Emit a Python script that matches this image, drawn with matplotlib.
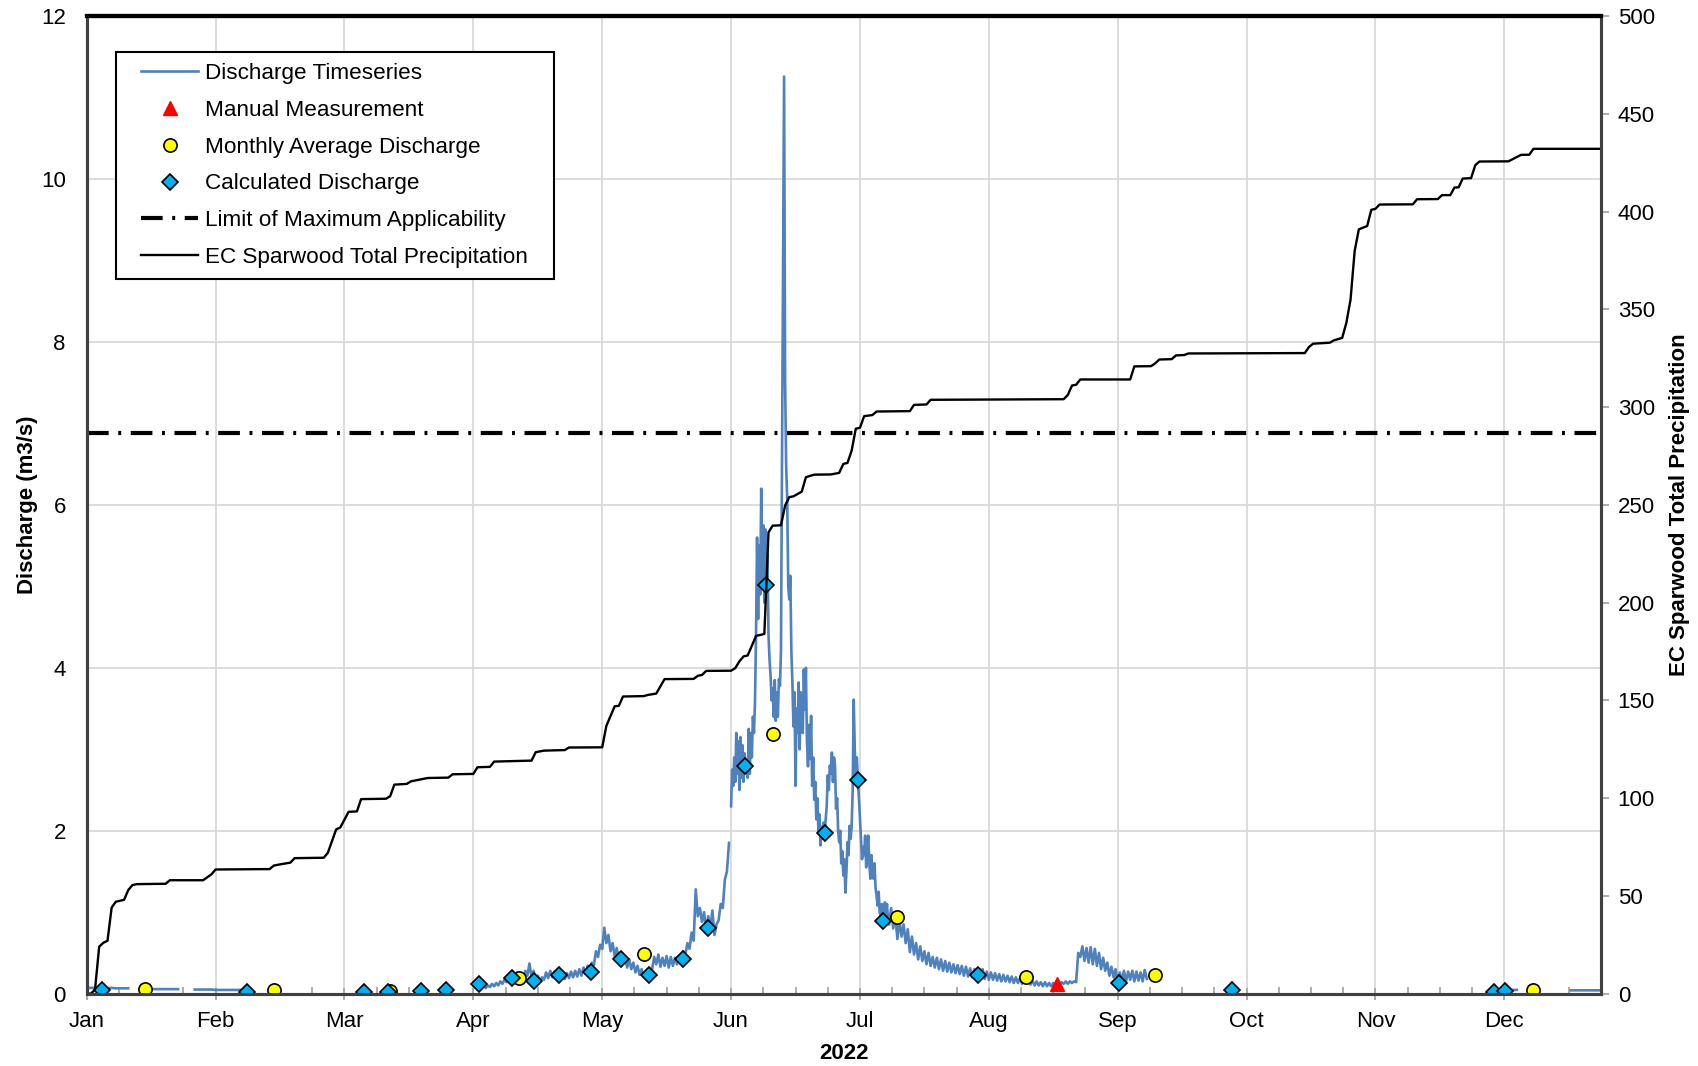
import datetime as dt
import numpy as np
import matplotlib
matplotlib.use("Agg")
import matplotlib.pyplot as plt
import matplotlib.dates as mdates
from matplotlib.lines import Line2D
from matplotlib.legend_handler import HandlerLine2D

plt.rcParams['font.family'] = ['Liberation Sans', 'DejaVu Sans']

# ---------------- data ----------------
# discharge timeseries pieces: (start, step in hours, values m3/s)
q_jan_a = [0.07, 0.07, 0.07, 0.07, 0.065, 0.065, 0.07, 0.065, 0.065, 0.065, 0.065]
q_jan_b = [0.055, 0.055, 0.055, 0.055, 0.055, 0.055, 0.055, 0.055, 0.055]
q_feb = [0.05, 0.05, 0.05, 0.05, 0.05, 0.045, 0.045, 0.045, 0.045, 0.045, 0.045, 0.045]
q_spring = [
    0.07, 0.10, 0.08, 0.12, 0.09, 0.13, 0.10, 0.15, 0.12, 0.17, 0.14, 0.20,
    0.16, 0.24, 0.18, 0.26, 0.17, 0.25, 0.18, 0.28, 0.22, 0.37, 0.20, 0.28,
    0.16, 0.22, 0.15, 0.20, 0.17, 0.26, 0.19, 0.28, 0.20, 0.27, 0.18, 0.24,
    0.17, 0.23, 0.18, 0.25, 0.19, 0.27, 0.20, 0.28, 0.21, 0.30, 0.22, 0.32,
    0.24, 0.34, 0.26, 0.38, 0.35, 0.52, 0.45, 0.60, 0.55, 0.81, 0.62, 0.72,
    0.52, 0.62, 0.46, 0.56, 0.40, 0.50, 0.36, 0.45, 0.32, 0.42, 0.30, 0.38,
    0.26, 0.34, 0.23, 0.30, 0.20, 0.26, 0.19, 0.24, 0.30, 0.45, 0.36, 0.48,
    0.33, 0.44, 0.34, 0.46, 0.32, 0.45, 0.34, 0.44, 0.36, 0.47, 0.40, 0.52,
    0.48, 0.62, 0.55, 0.75, 0.65, 1.28, 0.95, 1.05, 0.88, 1.00, 0.78, 0.95,
    0.80, 1.02, 0.72, 0.85, 0.90, 1.10, 1.05, 1.40, 1.50, 1.85,
]
q_freshet = [
    2.30, 2.75, 2.55, 2.90, 2.60, 3.20, 2.70, 3.10, 2.50, 3.15, 2.65, 3.05,
    2.60, 2.95, 2.75, 2.80, 2.65, 3.25, 2.70, 3.20, 2.90, 3.40, 3.20, 3.58,
    4.40, 5.60, 4.60, 5.50, 4.90, 6.20, 5.10, 5.75, 4.80, 5.70, 5.00, 5.40,
    4.40, 4.10, 3.90, 3.60, 3.75, 3.40, 3.85, 3.35, 3.70, 3.40, 3.86, 3.78,
    4.20, 6.50, 9.00, 11.26, 7.50, 6.48, 6.07, 5.00, 4.84, 5.13, 4.20, 3.82,
    3.28, 3.70, 2.55, 3.50, 3.20, 3.82, 3.00, 3.70, 3.41, 3.20, 3.98, 3.49,
    4.00, 3.10, 2.79, 3.30, 2.88, 3.41, 2.55, 2.90, 2.38, 2.60, 2.14, 2.40,
    2.00, 2.20, 1.82, 2.05, 1.90, 2.10, 1.97, 2.14, 2.30, 2.68, 2.50, 2.80,
    2.70, 2.96, 2.60, 2.90, 2.80, 2.27, 2.40, 2.00, 1.86, 2.00, 1.60, 1.75,
    1.45, 1.65, 1.24, 1.50, 1.86, 1.70, 2.06, 1.90, 2.06, 2.50, 3.61, 3.00,
    2.68, 2.90, 2.63, 2.40, 2.14, 1.90, 1.65, 1.80, 1.70, 1.94, 1.55, 1.80,
    1.94, 1.60, 1.41, 1.70, 1.50, 1.41, 1.60, 1.30, 1.20, 1.08, 1.25, 1.00,
    0.95, 1.10, 0.92, 1.05, 1.12, 0.95, 1.10, 0.90,
]
q_recession = [
    0.85, 1.05, 0.80, 0.98, 0.67, 0.90, 0.70, 0.85, 0.62, 0.79, 0.51, 0.70,
    0.48, 0.62, 0.42, 0.58, 0.40, 0.52, 0.36, 0.50, 0.34, 0.45, 0.32, 0.44,
    0.30, 0.42, 0.28, 0.40, 0.27, 0.38, 0.26, 0.36, 0.25, 0.35, 0.24, 0.34,
    0.22, 0.33, 0.21, 0.31, 0.20, 0.30, 0.20, 0.28, 0.19, 0.30, 0.18, 0.27,
    0.17, 0.26, 0.17, 0.25, 0.16, 0.24, 0.15, 0.23, 0.15, 0.22, 0.14, 0.21,
    0.13, 0.20, 0.13, 0.19, 0.12, 0.18, 0.12, 0.17, 0.11, 0.16, 0.10, 0.15,
    0.10, 0.14, 0.09, 0.14, 0.09, 0.13, 0.09, 0.13, 0.10, 0.13, 0.11, 0.14,
    0.12, 0.15, 0.12, 0.15, 0.13, 0.15, 0.14, 0.50, 0.45, 0.58, 0.40, 0.56,
    0.38, 0.57, 0.36, 0.55, 0.34, 0.50, 0.30, 0.44, 0.28, 0.38, 0.22, 0.33,
    0.20, 0.30, 0.13, 0.26, 0.16, 0.28, 0.15, 0.27, 0.17, 0.28, 0.15, 0.27,
    0.16, 0.26, 0.15, 0.29, 0.18,
]
q_dec_a = [0.045, 0.045, 0.045]
q_dec_b = [0.04, 0.04, 0.04, 0.04, 0.04, 0.04, 0.04, 0.04]

ts_pieces = [
    ("2022-01-01", 24, q_jan_a),
    ("2022-01-15", 24, q_jan_b),
    ("2022-01-27", 24, q_feb),
    ("2022-04-07", 12, q_spring),
    ("2022-06-05", 6, q_freshet),
    ("2022-07-13", 12, q_recession),
    ("2022-12-09", 24, q_dec_a),
    ("2022-12-24", 24, q_dec_b),
]

manual_date = ["2022-08-22 10:00"]
manual_q = [0.12]

monthly_date = ["2022-01-15", "2022-02-15", "2022-03-15", "2022-04-15", "2022-05-15",
                "2022-06-15", "2022-07-15", "2022-08-15", "2022-09-15", "2022-12-15"]
monthly_q = [0.055, 0.04, 0.03, 0.19, 0.49, 3.19, 0.94, 0.20, 0.23, 0.04]

calc_date = ["2022-01-04 14:00", "2022-02-08 16:00", "2022-03-08 16:00", "2022-03-14 10:00",
             "2022-03-22 12:00", "2022-03-28 12:00", "2022-04-05 10:00", "2022-04-13 10:00",
             "2022-04-18 12:00", "2022-04-24 14:00", "2022-05-02 10:00", "2022-05-09 10:00",
             "2022-05-16 07:00", "2022-05-24 12:00", "2022-05-30 12:00", "2022-06-08 10:00",
             "2022-06-13 12:00", "2022-06-27 12:00", "2022-07-05 12:00", "2022-07-11 12:00",
             "2022-08-03 10:00", "2022-09-06 10:00", "2022-10-03 10:00", "2022-12-05 10:00",
             "2022-12-08 05:00"]
calc_q = [0.05, 0.02, 0.02, 0.02, 0.03, 0.04, 0.12, 0.19, 0.15, 0.23, 0.27, 0.43,
          0.23, 0.43, 0.80, 2.79, 5.02, 1.97, 2.62, 0.89, 0.23, 0.13, 0.05, 0.02, 0.03]

limit_q = 6.88

# cumulative precipitation (mm), by day of year (0 = Jan 1)
precip_doy = [0, 1, 2, 3, 4, 5, 6, 7, 8, 9, 10, 11, 12, 19, 20, 28, 30, 31, 44, 45,
              47, 49, 50, 57, 58, 60, 61, 63, 65, 66, 72, 73, 74, 77, 78, 82, 87, 88,
              93, 94, 97, 98, 107, 108, 110, 115, 116, 124, 125, 126, 127, 128, 129,
              134, 135, 137, 139, 146, 147, 148, 149, 155, 156, 157, 158, 159, 160,
              161, 163, 164, 165, 167, 168, 169, 170, 172, 173, 175, 179, 181, 182,
              183, 184, 185, 186, 187, 189, 190, 198, 199, 202, 203, 222, 235, 236,
              237, 238, 239, 251, 252, 256, 257, 258, 261, 262, 264, 265, 293, 294,
              295, 299, 300, 302, 303, 304, 305, 306, 308, 309, 310, 311, 319, 320,
              325, 326, 328, 329, 330, 331, 333, 334, 335, 342, 343, 344, 345, 347,
              348, 364]
precip_mm = [0, 0, 2, 24, 26, 27, 44, 47, 47.5, 48, 53, 55.5, 56, 56.2, 58, 58, 61,
             63.5, 63.7, 65.5, 66.3, 67, 69.3, 69.5, 72, 84, 85, 93, 93.2, 99.5, 99.7,
             101, 106.9, 107.3, 108.6, 110.3, 110.5, 112.2, 112.4, 115.8, 116, 118.7,
             119.2, 123.5, 124.3, 124.6, 125.9, 126, 137, 142, 147, 147.2, 152, 152.2,
             152.8, 153.5, 160.9, 161, 162.6, 163, 165.1, 165.2, 166.5, 170, 172.5,
             173, 178, 183, 184, 236, 239.4, 239.6, 249.7, 254, 254.4, 256.8, 264.2,
             265.5, 265.6, 266.4, 271, 271.5, 277.8, 289, 289.5, 295.4, 296, 297.8,
             298, 301.2, 301.4, 303.8, 304, 304.1, 306.3, 311.1, 311.5, 314.2, 314.2,
             320.9, 321, 322.4, 324.4, 324.6, 326.5, 326.7, 327.5, 327.7, 330.8,
             332.5, 333, 334.2, 335.5, 343.2, 355, 380, 391, 392.7, 401, 401.5, 403.7,
             403.8, 406.4, 406.5, 408.5, 408.5, 412.4, 412.5, 417, 417.2, 423.8,
             425.7, 425.8, 426.9, 428, 429.1, 429.2, 432.2, 432.2]

# ---------------- build ----------------
jan1 = dt.datetime(2022, 1, 1)

ts_x, ts_y = [], []
for start, step, vals in ts_pieces:
    t0 = dt.datetime.fromisoformat(start)
    for i, v in enumerate(vals):
        ts_x.append(t0 + dt.timedelta(hours=step * i))
        ts_y.append(v)
    ts_x.append(ts_x[-1] + dt.timedelta(hours=step / 2))
    ts_y.append(np.nan)

to_dt = lambda lst: [dt.datetime.fromisoformat(s) for s in lst]
precip_x = [jan1 + dt.timedelta(days=d) for d in precip_doy]


class PaddedHandler(HandlerLine2D):
    # leaves some empty room left of each legend sample, like the Excel legend
    def __init__(self, pad, **kw):
        super().__init__(**kw)
        self.pad = pad

    def create_artists(self, legend, orig_handle, xdescent, ydescent, width, height,
                       fontsize, trans):
        p = self.pad * fontsize
        return super().create_artists(legend, orig_handle, xdescent - p, ydescent,
                                      width - p, height, fontsize, trans)


# ---------------- plot ----------------
W, H = 1699, 1066
fig = plt.figure(figsize=(W / 100, H / 100), dpi=100)
L, R, T, B = 86.7, 1601, 16.3, 993.6
ax = fig.add_axes([L / W, 1 - B / H, (R - L) / W, (B - T) / H])
ax2 = ax.twinx()

blue = '#4f81bd'
ax.plot(ts_x, ts_y, color=blue, lw=1.9, zorder=2)
ax.axhline(limit_q, color='black', lw=3, dashes=(5.2, 2.3, 0.7, 2.3), zorder=3)
ax.plot(to_dt(manual_date), manual_q, ls='none', marker='^', ms=9.5, color='#ff0000',
        mec='#ff0000', zorder=5)
ax.plot(to_dt(monthly_date), monthly_q, ls='none', marker='o', ms=9.5, mfc='#ffff00',
        mec='black', mew=1.2, zorder=5)
ax.plot(to_dt(calc_date), calc_q, ls='none', marker='D', ms=7.8, mfc='#00b0f0',
        mec='black', mew=1.2, zorder=6)

ax2.plot(precip_x, precip_mm, color='black', lw=1.7)

# axes
ax.set_xlim(jan1, dt.datetime(2022, 12, 31))
ax.set_ylim(0, 12)
ax2.set_ylim(0, 500)
major = [jan1 + dt.timedelta(days=31 * k) for k in range(12)]
ax.set_xticks(major)
ax.xaxis.set_major_formatter(mdates.DateFormatter('%b'))
minor = [mdates.date2num(jan1) + 7.75 * k for k in range(48)]
ax.set_xticks(minor, minor=True)
ax.set_yticks(range(0, 13, 2))
ax2.set_yticks(range(0, 501, 50))

ax.grid(True, which='major', color='#d9d9d9', lw=1.3)
ax.set_axisbelow(True)

ax.tick_params(axis='x', which='major', direction='inout', length=9, width=1.2,
               color='#a0a0a0', labelsize=16, pad=8)
ax.tick_params(axis='x', which='minor', direction='in', length=5, width=1.2,
               color='#a0a0a0')
ax.tick_params(axis='y', length=0, labelsize=16, pad=15)
ax2.tick_params(axis='y', direction='out', length=6, width=1.2, color='#a0a0a0',
                labelsize=16, pad=6)

for a in (ax, ax2):
    a.spines['top'].set_color('black')
    a.spines['top'].set_linewidth(3)
    for s in ('left', 'right', 'bottom'):
        a.spines[s].set_color('#404040')
        a.spines[s].set_linewidth(2.2)

ax.set_ylabel('Discharge (m3/s)', fontsize=16, fontweight='bold', labelpad=2)
ax.set_xlabel('2022', fontsize=16, fontweight='bold', labelpad=8)
ax2.set_ylabel('EC Sparwood Total Precipitation', fontsize=16, fontweight='bold',
               labelpad=10)

handles = [
    Line2D([], [], color=blue, lw=1.9),
    Line2D([], [], ls='none', marker='^', ms=9.5, color='#ff0000'),
    Line2D([], [], ls='none', marker='o', ms=9.5, mfc='#ffff00', mec='black', mew=1.2),
    Line2D([], [], ls='none', marker='D', ms=7.8, mfc='#00b0f0', mec='black', mew=1.2),
    Line2D([], [], color='black', lw=3, dashes=(5.2, 2.3, 0.7, 2.3)),
    Line2D([], [], color='black', lw=1.7),
]
labels = ['Discharge Timeseries', 'Manual Measurement', 'Monthly Average Discharge',
          'Calculated Discharge', 'Limit of Maximum Applicability',
          'EC Sparwood Total Precipitation']
leg_w = 438 / W
leg = ax2.legend(handles, labels, loc='upper left',
                 bbox_to_anchor=(116 / W, 1 - 52 / H - 0.3, leg_w, 0.3),
                 bbox_transform=fig.transFigure, mode='expand', fontsize=16.2,
                 frameon=True, fancybox=False, framealpha=1, edgecolor='black',
                 handlelength=3.16, handletextpad=0.3, labelspacing=0.7,
                 borderpad=0.5, borderaxespad=0,
                 handler_map={Line2D: PaddedHandler(0.61)})
leg.get_frame().set_linewidth(1.5)

fig.savefig('out.png', dpi=100)
